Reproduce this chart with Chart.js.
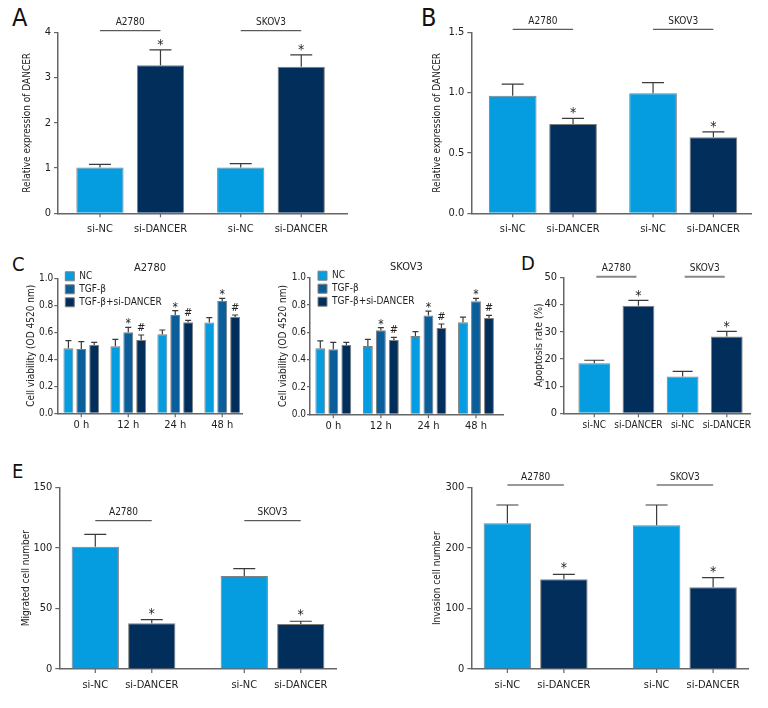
<!DOCTYPE html>
<html>
<head>
<meta charset="utf-8">
<script src="https://cdn.jsdelivr.net/npm/chart.js@4.4.0/dist/chart.umd.min.js"></script>
<style>
body { margin: 0; background: #fff; width: 768px; height: 708px; position: relative; overflow: hidden;
       font-family: 'Liberation Sans Narrow', 'DejaVu Sans Condensed', sans-serif; }
canvas { position: absolute; }
.tag { position: absolute; line-height: 1; color: #111; }
</style>
</head>
<body>
<div class="tag" style="left:12px;top:5px;font-size:25px">A</div>
<div class="tag" style="left:421px;top:5px;font-size:25px">B</div>
<div class="tag" style="left:12px;top:254px;font-size:20px">C</div>
<div class="tag" style="left:521px;top:253px;font-size:20px">D</div>
<div class="tag" style="left:12px;top:461px;font-size:20px">E</div>
<script>
const FONT = "'Liberation Sans Narrow', 'DejaVu Sans Condensed', sans-serif";
const LIGHT = '#069de0';
const MID = '#0a5e9a';
const DARK = '#012e5b';
const AXIS = '#666';

const cells = ['A2780', 'SKOV3'];
const treatments = ['si-NC', 'si-DANCER'];
const hours = ['0 h', '12 h', '24 h', '48 h'];
const groupsC = ['NC', 'TGF-β', 'TGF-β+si-DANCER'];

// A - relative expression of DANCER
const exprA_nc = [1.01, 1.01];
const exprA_nc_sd = [0.07, 0.09];
const exprA_si = [3.27, 3.24];
const exprA_si_sd = [0.34, 0.26];

// B - relative expression of DANCER
const exprB_nc = [0.975, 0.995];
const exprB_nc_sd = [0.095, 0.088];
const exprB_si = [0.74, 0.63];
const exprB_si_sd = [0.047, 0.044];

// C - cell viability, A2780
const viabA_nc = [0.481, 0.496, 0.585, 0.672];
const viabA_nc_sd = [0.057, 0.052, 0.032, 0.037];
const viabA_tgf = [0.477, 0.600, 0.728, 0.832];
const viabA_tgf_sd = [0.054, 0.037, 0.032, 0.020];
const viabA_si = [0.506, 0.543, 0.674, 0.714];
const viabA_si_sd = [0.020, 0.037, 0.015, 0.014];

// C - cell viability, SKOV3
const viabS_nc = [0.483, 0.500, 0.573, 0.673];
const viabS_nc_sd = [0.054, 0.049, 0.032, 0.039];
const viabS_tgf = [0.476, 0.615, 0.724, 0.827];
const viabS_tgf_sd = [0.051, 0.019, 0.032, 0.022];
const viabS_si = [0.507, 0.544, 0.632, 0.705];
const viabS_si_sd = [0.020, 0.019, 0.029, 0.019];

// D - apoptosis rate (%)
const apop_nc = [18.4, 13.5];
const apop_nc_sd = [1.1, 1.9];
const apop_si = [39.5, 28.2];
const apop_si_sd = [2.0, 1.9];

// E - migration / invasion
const migr_nc = [101, 76.8];
const migr_nc_sd = [10.2, 6.0];
const migr_si = [37.7, 37.2];
const migr_si_sd = [3.0, 2.2];
const inva_nc = [240.5, 237.2];
const inva_nc_sd = [30.3, 33.6];
const inva_si = [148, 134.9];
const inva_si_sd = [8.3, 15.9];

const starPair = ['*', '*'];
const starC = ['', '*', '*', '*'];
const hashC = ['', '#', '#', '#'];

// error bars, significance marks, x labels, tick marks and cell-line brackets
const annot = {
  id: 'annot',
  afterDraw(chart, args, o) {
    const ctx = chart.ctx;
    const ys = chart.scales.y;
    const xs = chart.scales.x;
    const area = chart.chartArea;
    const sets = chart.data.datasets;
    const metas = sets.map((d, k) => chart.getDatasetMeta(k));
    ctx.save();

    sets.forEach((ds, k) => {
      metas[k].data.forEach((bar, i) => {
        const top = ys.getPixelForValue(ds.data[i].y + ds.sd[i]);
        ctx.strokeStyle = '#3a3a3a';
        ctx.lineWidth = 1.2;
        ctx.beginPath();
        ctx.moveTo(bar.x, bar.y);
        ctx.lineTo(bar.x, top);
        ctx.moveTo(bar.x - o.cap / 2, top);
        ctx.lineTo(bar.x + o.cap / 2, top);
        ctx.stroke();
        const m = ds.marks ? ds.marks[i] : '';
        if (m) {
          const size = m === '#' ? o.hashSize : o.markSize;
          const gap = m === '#' ? o.hashGap : o.markGap;
          const k2 = m === '#' ? 0.36 : 0.58;
          ctx.fillStyle = '#222';
          ctx.font = size + 'px ' + FONT;
          ctx.textAlign = 'center';
          ctx.textBaseline = 'alphabetic';
          ctx.fillText(m, bar.x, top - gap + k2 * size);
        }
      });
    });

    // x labels and tick marks
    const spots = [];
    if (o.barLabels) {
      sets.forEach((ds, k) => metas[k].data.forEach(bar => spots.push([bar.x, ds.label])));
    } else {
      o.cats.forEach((c, i) => spots.push([xs.getPixelForValue(i), c]));
    }
    ctx.strokeStyle = AXIS;
    ctx.lineWidth = 1.2;
    ctx.fillStyle = '#222';
    ctx.font = o.xFont + 'px ' + FONT;
    ctx.textAlign = 'center';
    ctx.textBaseline = 'middle';
    spots.forEach(([x, t]) => {
      ctx.beginPath();
      ctx.moveTo(x, area.bottom);
      ctx.lineTo(x, area.bottom + 4);
      ctx.stroke();
      ctx.fillText(t, x, area.bottom + o.labelGap);
    });

    if (o.bracket) {
      const b = o.bracket;
      const last = metas[metas.length - 1];
      const yl = area.top + b.y;
      o.cats.forEach((c, i) => {
        const x0 = metas[0].data[i].x + b.inset;
        const x1 = last.data[i].x - b.inset;
        ctx.strokeStyle = b.color;
        ctx.lineWidth = b.width;
        ctx.beginPath();
        ctx.moveTo(x0, yl);
        ctx.lineTo(x1, yl);
        ctx.stroke();
        ctx.fillStyle = '#222';
        ctx.font = '10px ' + FONT;
        ctx.textAlign = 'center';
        ctx.textBaseline = 'middle';
        ctx.fillText(c, (x0 + x1) / 2, yl - 8);
      });
    }
    ctx.restore();
  },
  afterLayout(chart, args, o) {
    const lg = chart.legend;
    if (!o.legendShift || !lg) return;
    const a = chart.chartArea;
    lg.left = a.left + o.legendShift[0];
    lg.top = a.top + o.legendShift[1];
    lg.right = lg.left + lg.width;
    lg.bottom = lg.top + lg.height;
  }
};

function panel(o) {
  const [bx, by, bw, bh] = o.box;
  const [L, T, R, B] = o.area;
  const cv = document.createElement('canvas');
  cv.width = bw;
  cv.height = bh;
  cv.style.left = bx + 'px';
  cv.style.top = by + 'px';
  document.body.appendChild(cv);
  const padL = o.titleX - bx - 6;
  const titleH = o.title ? 17.2 : 0;
  return new Chart(cv, {
    type: 'bar',
    data: {
      datasets: o.series.map(s => ({
        label: s.label,
        data: s.values.map((v, i) => ({ x: i, y: v })),
        sd: s.sd,
        marks: s.marks,
        backgroundColor: s.color,
        borderColor: '#7f7f7f',
        borderWidth: 1,
        categoryPercentage: o.catPct,
        barPercentage: o.barPct
      }))
    },
    options: {
      responsive: false,
      animation: false,
      events: [],
      layout: { padding: { left: padL, top: T - by - titleH, right: bx + bw - R, bottom: by + bh - B } },
      plugins: {
        tooltip: { enabled: false },
        title: {
          display: !!o.title, text: o.title, fullSize: false, color: '#222',
          font: { family: FONT, size: 11, weight: 'normal' }, padding: { top: 0, bottom: 4 }
        },
        legend: {
          display: !!o.legend, position: 'chartArea', align: 'start',
          labels: { boxWidth: 9, boxHeight: 9, padding: 3, color: '#222', font: { family: FONT, size: 10 } }
        },
        annot: {
          cats: o.cats, cap: o.cap, markSize: o.markSize || 14, markGap: o.markGap || 9,
          hashSize: 11, hashGap: 8, barLabels: o.barLabels, labelGap: o.labelGap,
          xFont: o.xFont || 11, bracket: o.bracket, legendShift: o.legend ? [5, -10] : null
        }
      },
      scales: {
        x: {
          type: 'linear', min: o.xMin, max: o.xMax, offset: false,
          afterBuildTicks: s => { s.ticks = o.cats.map((c, i) => ({ value: i })); },
          afterFit: s => { s.height = 0; },
          ticks: { display: false },
          grid: { display: false },
          border: { color: AXIS, width: 1.5 }
        },
        y: {
          min: 0, max: o.yMax,
          afterFit: s => { s.width = L - bx - padL; },
          ticks: {
            stepSize: o.step, color: '#222', padding: o.tickPad ?? 3,
            font: { family: FONT, size: o.tickFont || 11 },
            callback: v => v.toFixed(o.digits)
          },
          grid: { drawOnChartArea: false, tickLength: o.tickLen || 4, tickColor: AXIS, lineWidth: 1.2 },
          border: { color: AXIS, width: 1.5 },
          title: { display: true, text: o.yTitle, color: '#222', padding: 0, font: { family: FONT, size: 10 } }
        }
      }
    },
    plugins: [annot]
  });
}

// A
panel({
  box: [0, 0, 384, 245], area: [58, 32.3, 347, 213.3], titleX: 27,
  cats: cells, xMin: -0.513, xMax: 1.54, catPct: 0.86, barPct: 0.78,
  yMax: 4, step: 1, digits: 0, yTitle: 'Relative expression of DANCER',
  series: [
    { label: treatments[0], values: exprA_nc, sd: exprA_nc_sd, color: LIGHT },
    { label: treatments[1], values: exprA_si, sd: exprA_si_sd, color: DARK, marks: starPair }
  ],
  barLabels: true, labelGap: 16, cap: 22,
  bracket: { y: -1.6, inset: 0, color: '#333', width: 1 }
});

// B
panel({
  box: [384, 0, 384, 245], area: [471.3, 32.3, 751, 213.3], titleX: 437,
  cats: cells, xMin: -0.51, xMax: 1.483, catPct: 0.86, barPct: 0.79,
  yMax: 1.5, step: 0.5, digits: 1, yTitle: 'Relative expression of DANCER',
  series: [
    { label: treatments[0], values: exprB_nc, sd: exprB_nc_sd, color: LIGHT },
    { label: treatments[1], values: exprB_si, sd: exprB_si_sd, color: DARK, marks: starPair }
  ],
  barLabels: true, labelGap: 16, cap: 22,
  bracket: { y: -3, inset: 0, color: '#333', width: 1 }
});

// C left
panel({
  box: [0, 245, 262, 200], area: [57.3, 278.3, 242.7, 413.3], titleX: 31,
  cats: hours, xMin: -0.511, xMax: 3.436, catPct: 0.824, barPct: 0.77,
  yMax: 1, step: 0.2, digits: 1, yTitle: 'Cell viability (OD 4520 nm)', title: cells[0], legend: true,
  series: [
    { label: groupsC[0], values: viabA_nc, sd: viabA_nc_sd, color: LIGHT },
    { label: groupsC[1], values: viabA_tgf, sd: viabA_tgf_sd, color: MID, marks: starC },
    { label: groupsC[2], values: viabA_si, sd: viabA_si_sd, color: DARK, marks: hashC }
  ],
  barLabels: false, labelGap: 12, cap: 6, markSize: 12, markGap: 7,
  tickFont: 10, tickLen: 3, tickPad: 1
});

// C right
panel({
  box: [262, 245, 248, 200], area: [310, 277.7, 503, 414.3], titleX: 283,
  cats: hours, xMin: -0.49, xMax: 3.568, catPct: 0.82, barPct: 0.76,
  yMax: 1, step: 0.2, digits: 1, yTitle: 'Cell viability (OD 4520 nm)', title: cells[1], legend: true,
  series: [
    { label: groupsC[0], values: viabS_nc, sd: viabS_nc_sd, color: LIGHT },
    { label: groupsC[1], values: viabS_tgf, sd: viabS_tgf_sd, color: MID, marks: starC },
    { label: groupsC[2], values: viabS_si, sd: viabS_si_sd, color: DARK, marks: hashC }
  ],
  barLabels: false, labelGap: 12, cap: 6, markSize: 12, markGap: 7,
  tickFont: 10, tickLen: 3, tickPad: 1
});

// D
panel({
  box: [510, 245, 258, 200], area: [564, 277.3, 750, 413.3], titleX: 539,
  cats: cells, xMin: -0.593, xMax: 1.513, catPct: 1.0, barPct: 0.72,
  yMax: 50, step: 10, digits: 0, yTitle: 'Apoptosis rate (%)',
  series: [
    { label: treatments[0], values: apop_nc, sd: apop_nc_sd, color: LIGHT },
    { label: treatments[1], values: apop_si, sd: apop_si_sd, color: DARK, marks: starPair }
  ],
  barLabels: true, labelGap: 12, cap: 20, xFont: 10,
  bracket: { y: -0.6, inset: 2, color: '#888', width: 2 }
});

// E left
panel({
  box: [0, 455, 384, 253], area: [59.3, 487.3, 336, 669], titleX: 26,
  cats: cells, xMin: -0.431, xMax: 1.426, catPct: 0.758, barPct: 0.837,
  yMax: 150, step: 50, digits: 0, yTitle: 'Migrated cell number',
  series: [
    { label: treatments[0], values: migr_nc, sd: migr_nc_sd, color: LIGHT },
    { label: treatments[1], values: migr_si, sd: migr_si_sd, color: DARK, marks: starPair }
  ],
  barLabels: true, labelGap: 16, cap: 22, markGap: 10,
  bracket: { y: 33.4, inset: 0, color: '#333', width: 1 }
});

// E right
panel({
  box: [384, 455, 384, 253], area: [471.3, 487.3, 748, 669], titleX: 437,
  cats: cells, xMin: -0.431, xMax: 1.423, catPct: 0.757, barPct: 0.84,
  yMax: 300, step: 100, digits: 0, yTitle: 'Invasion cell number',
  series: [
    { label: treatments[0], values: inva_nc, sd: inva_nc_sd, color: LIGHT },
    { label: treatments[1], values: inva_si, sd: inva_si_sd, color: DARK, marks: starPair }
  ],
  barLabels: true, labelGap: 16, cap: 22, markGap: 10,
  bracket: { y: -2.3, inset: 0, color: '#333', width: 1 }
});
</script>
</body>
</html>
